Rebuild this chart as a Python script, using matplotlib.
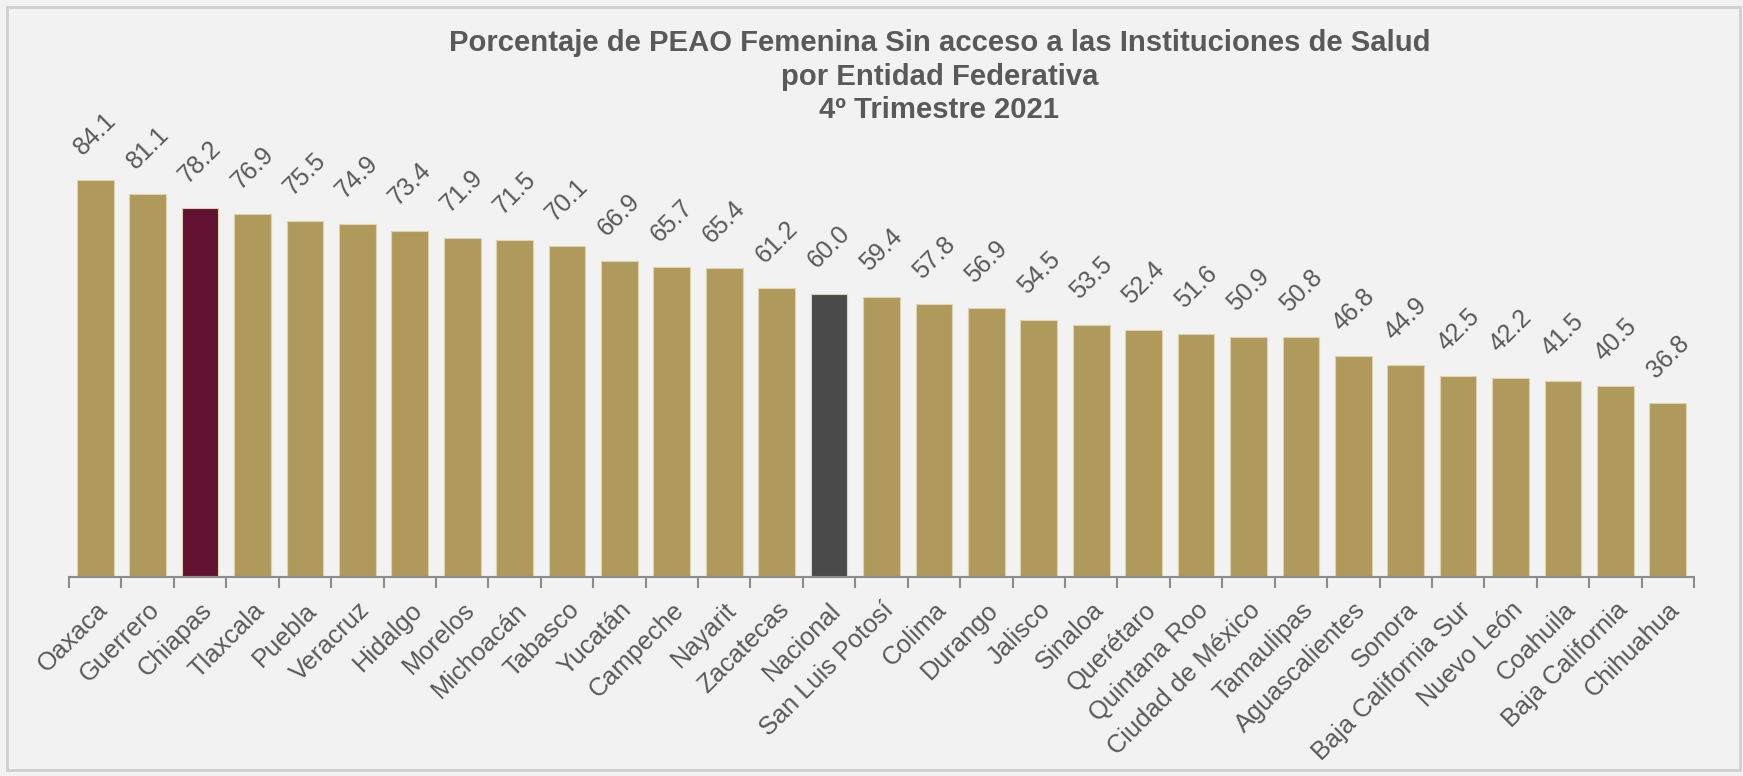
import matplotlib.pyplot as plt
from matplotlib.patches import Rectangle

plt.rcParams['font.family'] = ['Liberation Sans', 'DejaVu Sans']

# Datos
entidades = ['Oaxaca', 'Guerrero', 'Chiapas', 'Tlaxcala', 'Puebla', 'Veracruz', 'Hidalgo',
             'Morelos', 'Michoacán', 'Tabasco', 'Yucatán', 'Campeche', 'Nayarit', 'Zacatecas',
             'Nacional', 'San Luis Potosí', 'Colima', 'Durango', 'Jalisco', 'Sinaloa',
             'Querétaro', 'Quintana Roo', 'Ciudad de México', 'Tamaulipas', 'Aguascalientes',
             'Sonora', 'Baja California Sur', 'Nuevo León', 'Coahuila', 'Baja California',
             'Chihuahua']
porcentajes = [84.1, 81.1, 78.2, 76.9, 75.5, 74.9, 73.4, 71.9, 71.5, 70.1, 66.9, 65.7, 65.4,
               61.2, 60.0, 59.4, 57.8, 56.9, 54.5, 53.5, 52.4, 51.6, 50.9, 50.8, 46.8, 44.9,
               42.5, 42.2, 41.5, 40.5, 36.8]

gris_texto = '#595959'
fondo = '#F2F2F2'
colores = []
for e in entidades:
    if e == 'Chiapas':
        colores.append('#621132')
    elif e == 'Nacional':
        colores.append('#4A4A4A')
    else:
        colores.append('#B09A5B')

fig = plt.figure(figsize=(17.43, 7.76), dpi=100, facecolor=fondo)
ax = fig.add_axes([0.0396, 0.2564, 0.9323, 0.6082])
ax.set_facecolor(fondo)

x = list(range(len(entidades)))
barras = ax.bar(x, porcentajes, width=0.7, color=colores, edgecolor='#DDD3B0', linewidth=0.8)

for xi, v in zip(x, porcentajes):
    ax.annotate(f'{v:.1f}', (xi, v), xytext=(0, 15), textcoords='offset points',
                ha='center', va='bottom', rotation=45, fontsize=18, color=gris_texto)

ax.set_xlim(-0.5, len(entidades) - 0.5)
ax.set_ylim(0, 100)

# marcas entre categorias, etiquetas al centro
ax.set_xticks([i - 0.5 for i in range(len(entidades) + 1)])
ax.set_xticklabels([])
ax.set_xticks(x, minor=True)
ax.set_xticklabels(entidades, minor=True, rotation=45, ha='right', rotation_mode='anchor',
                   fontsize=18.3, color=gris_texto)
ax.tick_params(axis='x', which='major', length=8, width=1.5, color='#8C8C8C', direction='out')
ax.tick_params(axis='x', which='minor', length=0, pad=15)
ax.set_yticks([])

for s in ['top', 'right', 'left']:
    ax.spines[s].set_visible(False)
ax.spines['bottom'].set_color('#8C8C8C')
ax.spines['bottom'].set_linewidth(1.5)

fig.text(0.539, 0.944, 'Porcentaje de PEAO Femenina Sin acceso a las Instituciones de Salud',
         ha='center', va='center', fontsize=21.1, fontweight='bold', color=gris_texto)
fig.text(0.539, 0.901, 'por Entidad Federativa',
         ha='center', va='center', fontsize=21.1, fontweight='bold', color=gris_texto)
fig.text(0.539, 0.858, '4º Trimestre 2021',
         ha='center', va='center', fontsize=21.1, fontweight='bold', color=gris_texto)

fig.patches.append(Rectangle((0.004, 0.008), 0.994, 0.983, transform=fig.transFigure,
                             fill=False, edgecolor='#D0D0D0', linewidth=2))

fig.savefig('out.png', dpi=100, facecolor=fondo)
